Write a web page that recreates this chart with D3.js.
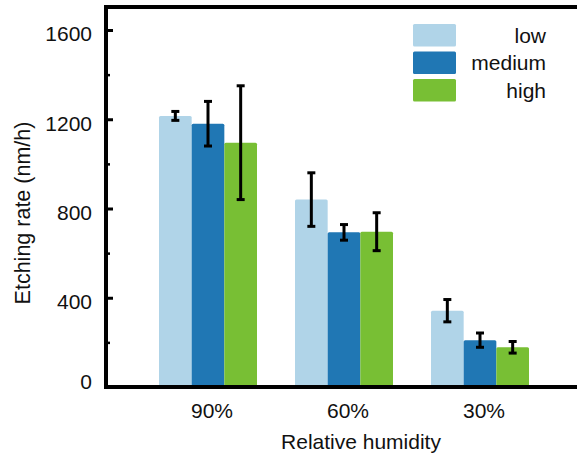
<!DOCTYPE html>
<html>
<head>
<meta charset="utf-8">
<script src="https://cdn.jsdelivr.net/npm/d3@7"></script>
<style>
  html, body { margin: 0; padding: 0; background: #fff; }
  svg { display: block; font-family: "Liberation Sans", Arial, sans-serif; }
</style>
</head>
<body>
<svg id="chart" width="577" height="463"></svg>
<script>
// Etching rate by relative humidity, grouped by level
const categories = ["90%", "60%", "30%"];
const series = ["low", "medium", "high"];
const lowValues = [1215, 840, 342];
const mediumValues = [1180, 693, 210];
const highValues = [1095, 696, 178];
const lowErrors = [20, 120, 50];
const mediumErrors = [100, 35, 32];
const highErrors = [255, 85, 26];
const yTicks = [0, 400, 800, 1200, 1600];
const yMinorTicks = [200, 600, 1000, 1400];
const colors = ["#b0d4e8", "#2077b4", "#78bf34"];

const valuesBySeries = [lowValues, mediumValues, highValues];
const errorsBySeries = [lowErrors, mediumErrors, highErrors];
const rows = [];
categories.forEach((c, ci) => {
  series.forEach((s, si) => {
    rows.push({ cat: c, series: s, value: valuesBySeries[si][ci], err: errorsBySeries[si][ci], color: colors[si] });
  });
});

const svg = d3.select("#chart");
const axisX = 106, baseY = 387, topY = 7;

const y = d3.scaleLinear().domain([0, 1600]).range([baseY, 30]);
const x0 = d3.scaleBand().domain(categories).range([140, 548]).padding(0);
const x1 = d3.scaleBand().domain(series).range([19, 117]).padding(0);
const color = d3.scaleOrdinal().domain(series).range(colors);

// bars
svg.append("g").selectAll("rect")
  .data(rows)
  .join("rect")
  .attr("x", d => x0(d.cat) + x1(d.series))
  .attr("y", d => y(d.value))
  .attr("width", x1.bandwidth())
  .attr("height", d => baseY - y(d.value))
  .attr("rx", 1.5)
  .attr("fill", d => color(d.series));

// error bars
const eb = svg.append("g").attr("stroke", "#000").attr("stroke-width", 3);
rows.forEach(d => {
  const cx = x0(d.cat) + x1(d.series) + x1.bandwidth() / 2;
  const y1 = y(d.value + d.err), y2 = y(d.value - d.err);
  eb.append("line").attr("x1", cx).attr("x2", cx).attr("y1", y1).attr("y2", y2);
  eb.append("line").attr("x1", cx - 4).attr("x2", cx + 4).attr("y1", y1).attr("y2", y1);
  eb.append("line").attr("x1", cx - 4).attr("x2", cx + 4).attr("y1", y2).attr("y2", y2);
});

// frame: left, top and bottom lines
const frame = svg.append("g").attr("stroke", "#000").attr("stroke-width", 4).attr("fill", "none");
frame.append("path").attr("d", `M577,${topY}H${axisX}V${baseY}H577`);

// y axis: major ticks with labels, minor ticks inward
const yAxis = svg.append("g")
  .attr("transform", `translate(${axisX},0)`)
  .call(d3.axisLeft(y).tickValues(yTicks).tickSizeInner(-7).tickSizeOuter(0).tickPadding(14).tickFormat(d3.format("d")));
yAxis.select(".domain").remove();
yAxis.selectAll(".tick line").attr("stroke", "#000").attr("stroke-width", 3);
yAxis.selectAll(".tick text")
  .attr("fill", "#111")
  .attr("font-size", 21)
  .attr("dy", d => d === 0 ? "0.08em" : "0.52em");

const yMinor = svg.append("g")
  .attr("transform", `translate(${axisX},0)`)
  .call(d3.axisLeft(y).tickValues(yMinorTicks).tickSizeInner(-4).tickSizeOuter(0).tickFormat(""));
yMinor.select(".domain").remove();
yMinor.selectAll(".tick line").attr("stroke", "#000").attr("stroke-width", 2.5);

// x axis labels
const xAxis = svg.append("g")
  .attr("transform", `translate(4,${baseY})`)
  .call(d3.axisBottom(x0).tickSize(0).tickPadding(16));
xAxis.select(".domain").remove();
xAxis.selectAll(".tick text").attr("fill", "#111").attr("font-size", 21).attr("dy", "0.71em");

// axis titles
svg.append("text")
  .attr("x", 361).attr("y", 449)
  .attr("text-anchor", "middle")
  .attr("font-size", 21).attr("fill", "#111")
  .text("Relative humidity");

svg.append("text")
  .attr("transform", "translate(30,213) rotate(-90)")
  .attr("text-anchor", "middle")
  .attr("font-size", 21.5).attr("fill", "#111")
  .text("Etching rate (nm/h)");

// legend
const legend = svg.append("g");
series.forEach((s, i) => {
  const ly = 24 + i * 27.5;
  legend.append("rect")
    .attr("x", 413).attr("y", ly).attr("width", 43).attr("height", 22.5)
    .attr("rx", 1.5).attr("fill", color(s));
  legend.append("text")
    .attr("x", 546).attr("y", ly + 11.25).attr("dy", "0.35em")
    .attr("text-anchor", "end")
    .attr("font-size", 21).attr("fill", "#111")
    .text(s);
});
</script>
</body>
</html>
